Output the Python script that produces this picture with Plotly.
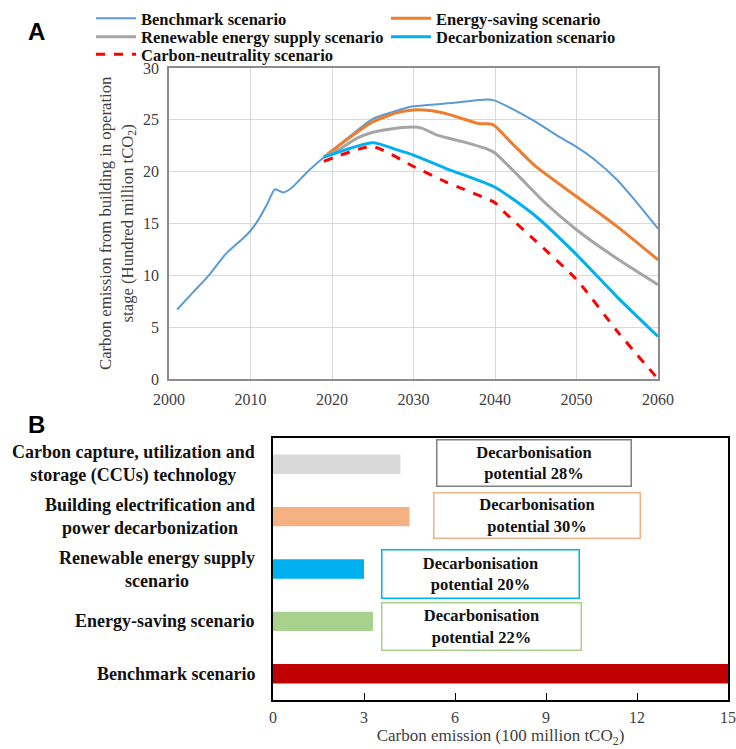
import plotly.graph_objects as go

# ---------------- Panel A data ----------------
bench_years = [2001, 2003, 2005, 2007, 2009, 2010, 2011, 2012, 2013, 2014, 2015, 2017, 2019,
               2022, 2025, 2028, 2030, 2035, 2039, 2040, 2042, 2045, 2048, 2050, 2052, 2055, 2057, 2060]
bench_vals = [6.7, 8.4, 10.1, 12.1, 13.5, 14.3, 15.4, 16.8, 18.3, 18.0, 18.4, 20.0, 21.4,
              23.3, 25.1, 25.9, 26.3, 26.65, 26.95, 26.85, 26.1, 24.8, 23.3, 22.4, 21.3, 19.2, 17.4, 14.5]

save_years = [2019, 2022, 2025, 2028, 2030, 2032, 2034, 2038, 2039.5, 2040, 2042, 2045, 2050, 2055, 2060]
save_vals = [21.4, 23.2, 24.8, 25.7, 25.95, 25.9, 25.6, 24.65, 24.6, 24.4, 22.8, 20.5, 17.6, 14.7, 11.5]

renew_years = [2019, 2021, 2023, 2025, 2027, 2030, 2031, 2033, 2036, 2039, 2040, 2043, 2046, 2050, 2055, 2060]
renew_vals = [21.4, 22.2, 23.2, 23.8, 24.1, 24.3, 24.2, 23.5, 22.9, 22.2, 21.8, 19.5, 17.1, 14.4, 11.6, 9.1]

decarb_years = [2019, 2025, 2028, 2030, 2034, 2040, 2045, 2050, 2055, 2060]
decarb_vals = [21.4, 22.8, 22.1, 21.6, 20.3, 18.5, 15.7, 12.0, 7.9, 4.1]

neutral_years = [2019, 2025, 2030, 2034, 2040, 2041, 2045, 2050, 2055, 2060]
neutral_vals = [21.0, 22.4, 20.5, 19.0, 17.0, 16.2, 13.3, 9.6, 4.6, 0.0]

# ---------------- Panel B data ----------------
bar_categories = ["Benchmark scenario", "Energy-saving scenario", "Renewable energy supply scenario",
                  "Building electrification and power decarbonization",
                  "Carbon capture, utilization and storage (CCUs) technology"]
bar_labels = ["Benchmark scenario", "Energy-saving scenario", "Renewable energy supply<br>scenario",
              "Building electrification and<br>power decarbonization",
              "Carbon capture, utilization and<br>storage (CCUs) technology"]
bar_values = [15.0, 3.3, 3.0, 4.5, 4.2]
bar_colors = ["#C00000", "#A9D18E", "#00B0F0", "#F4B183", "#D9D9D9"]
potential_labels = ["", "22%", "20%", "30%", "28%"]
box_colors = ["", "#A9D18E", "#00B0F0", "#F4B183", "#7F7F7F"]

W, H = 736, 749
def px_x(p):
    return p / W
def px_y(p):
    return 1 - p / H

serif = "Liberation Serif"

fig = go.Figure()

# name, x, y, colour, width, dash, legend id, legend position (px)
line_specs = [
    ("Benchmark scenario", bench_years, bench_vals, "#5B9BD5", 2, "solid", "legend", (91, 18.5)),
    ("Energy-saving scenario", save_years, save_vals, "#ED7D31", 3, "solid", "legend2", (386, 18.5)),
    ("Renewable energy supply scenario", renew_years, renew_vals, "#A5A5A5", 3, "solid", "legend3", (91, 37)),
    ("Decarbonization scenario", decarb_years, decarb_vals, "#00B0F0", 3, "solid", "legend4", (386, 37)),
    ("Carbon-neutrality scenario", neutral_years, neutral_vals, "#FF0000", 3, "dash", "legend5", (91, 54.5)),
]
legend_layouts = {}
for name, xs, ys, col, w, dash, leg, pos in line_specs:
    fig.add_trace(go.Scatter(
        x=xs, y=ys, mode="lines", name=name,
        line=dict(color=col, width=w, dash=dash, shape="spline", smoothing=0.6),
        legend=leg, xaxis="x", yaxis="y", hoverinfo="skip"))
    legend_layouts[leg] = dict(
        x=px_x(pos[0]), y=px_y(pos[1]), xanchor="left", yanchor="middle",
        orientation="v", bgcolor="rgba(0,0,0,0)", borderwidth=0,
        font=dict(size=16.5, family=serif, color="#111111", weight="bold"),
        itemwidth=40)

fig.add_trace(go.Bar(
    x=bar_values, y=bar_categories, orientation="h",
    marker=dict(color=bar_colors, line=dict(width=0)),
    width=0.37, showlegend=False, xaxis="x2", yaxis="y2"))

fig.update_layout(
    width=W, height=H,
    margin=dict(l=0, r=0, t=0, b=0, autoexpand=False),
    paper_bgcolor="white", plot_bgcolor="white",
    font=dict(family=serif, color="#404040", size=16),
    xaxis=dict(domain=[px_x(169), px_x(658)], range=[2000, 2060], dtick=10, tick0=2000,
               showgrid=True, gridcolor="#D9D9D9", gridwidth=1,
               showline=True, linecolor="#8C8C8C", linewidth=1.5, mirror=True,
               ticks="", zeroline=False, anchor="y", ticklabelstandoff=5,
               tickfont=dict(size=16, family=serif, color="#404040")),
    yaxis=dict(domain=[px_y(379), px_y(68)], range=[0, 30], dtick=5,
               showgrid=True, gridcolor="#D9D9D9", gridwidth=1,
               showline=True, linecolor="#8C8C8C", linewidth=1.5, mirror=True,
               ticks="", zeroline=False, anchor="x", ticklabelstandoff=5,
               tickfont=dict(size=16, family=serif, color="#404040")),
    xaxis2=dict(domain=[px_x(273), px_x(728)], range=[0, 15], dtick=3, tick0=0,
                showgrid=False, zeroline=False,
                showline=True, linecolor="black", linewidth=1.5, mirror=True,
                ticks="inside", ticklen=7, tickcolor="black", tickwidth=1,
                anchor="y2", ticklabelstandoff=2,
                tickfont=dict(size=16, family=serif, color="#404040"),
                title=dict(text="Carbon emission (100 million tCO<sub>2</sub>)",
                           font=dict(size=17, family=serif, color="#404040"), standoff=3)),
    yaxis2=dict(domain=[px_y(700), px_y(438)], range=[-0.5, 4.5], type="category",
                categoryorder="array", categoryarray=bar_categories,
                showgrid=False, zeroline=False, showticklabels=False,
                showline=True, linecolor="black", linewidth=1.5, mirror=True,
                ticks="", anchor="x2"),
    **legend_layouts,
)

annotations = []
# y-axis title for panel A
annotations.append(dict(
    text="Carbon emission from building in operation<br>stage (Hundred million tCO<sub>2</sub>)",
    xref="paper", yref="paper", x=px_x(117), y=px_y(223), textangle=-90,
    xanchor="center", yanchor="middle",
    showarrow=False, font=dict(size=16.7, family=serif, color="#404040"), align="center"))
# panel letters
annotations.append(dict(text="<b>A</b>", xref="paper", yref="paper", x=px_x(36), y=px_y(32),
                        xanchor="center", yanchor="middle",
                        showarrow=False, font=dict(size=24, family="Liberation Sans", color="black")))
annotations.append(dict(text="<b>B</b>", xref="paper", yref="paper", x=px_x(36), y=px_y(424),
                        xanchor="center", yanchor="middle",
                        showarrow=False, font=dict(size=24, family="Liberation Sans", color="black")))
# category labels
for cat, lab in zip(bar_categories, bar_labels):
    annotations.append(dict(text="<b>" + lab + "</b>", xref="x2", yref="y2", x=0, y=cat,
                            xanchor="right", xshift=-16, align="center", showarrow=False,
                            font=dict(size=18, family=serif, color="#111111")))
# decarbonisation potential boxes
box_pos = [None, (6.88, 0.9, 196, 44), (6.83, 1.9, 194, 45), (8.69, 3.03, 203, 42), (8.6, 4.03, 191, 43)]
for i, lab in enumerate(potential_labels):
    if not lab:
        continue
    bx, by, bw, bh = box_pos[i]
    annotations.append(dict(text="<b>Decarbonisation<br>potential " + lab + "</b>",
                            xref="x2", yref="y2", x=bx, y=by, showarrow=False,
                            width=bw, height=bh, align="center", valign="middle",
                            bordercolor=box_colors[i], borderwidth=1.5, borderpad=1,
                            bgcolor="white",
                            font=dict(size=16.5, family=serif, color="#111111")))
fig.update_layout(annotations=annotations)

fig.write_html("out.html", config={"displayModeBar": False},
               post_script="document.body.style.margin='0px';")
